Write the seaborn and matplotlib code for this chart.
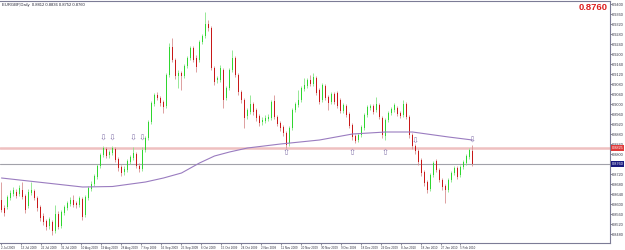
import numpy as np
import pandas as pd
import matplotlib
matplotlib.use("Agg")
import matplotlib.pyplot as plt
from matplotlib.transforms import blended_transform_factory
import seaborn as sns

# ---------------- data (EURGBP, Daily) ----------------
open_ = [0.8616, 0.8584, 0.8588, 0.8624, 0.8640, 0.8648, 0.8640, 0.8656, 0.8632, 0.8592,
         0.8644, 0.8652, 0.8624, 0.8588, 0.8552, 0.8532, 0.8512, 0.8528, 0.8492, 0.8560,
         0.8512, 0.8564, 0.8584, 0.8600, 0.8616, 0.8604, 0.8596, 0.8620, 0.8556, 0.8624,
         0.8660, 0.8680, 0.8708, 0.8752, 0.8796, 0.8820, 0.8796, 0.8804, 0.8820, 0.8780,
         0.8748, 0.8728, 0.8736, 0.8768, 0.8784, 0.8800, 0.8752, 0.8740, 0.8816, 0.8864,
         0.8928, 0.9000, 0.9036, 0.9024, 0.9008, 0.8992, 0.9116, 0.9228, 0.9176, 0.9112,
         0.9124, 0.9112, 0.9152, 0.9184, 0.9224, 0.9184, 0.9176, 0.9248, 0.9272, 0.9320,
         0.9304, 0.9144, 0.9096, 0.9096, 0.9136, 0.9024, 0.9064, 0.9136, 0.9184, 0.9116,
         0.9048, 0.9016, 0.8952, 0.8968, 0.9000, 0.8976, 0.8952, 0.8928, 0.8932, 0.8940,
         0.8944, 0.9012, 0.8948, 0.8924, 0.8908, 0.8884, 0.8844, 0.8904, 0.8976, 0.8996,
         0.9016, 0.9060, 0.9072, 0.9096, 0.9080, 0.9104, 0.9056, 0.9016, 0.9072, 0.9028,
         0.9008, 0.9040, 0.9044, 0.9016, 0.8972, 0.8992, 0.8960, 0.8916, 0.8872, 0.8856,
         0.8876, 0.8904, 0.8956, 0.8984, 0.8992, 0.8976, 0.8996, 0.8944, 0.8872, 0.8936,
         0.8964, 0.8976, 0.8984, 0.8964, 0.8956, 0.9000, 0.8948, 0.8876, 0.8832, 0.8812,
         0.8776, 0.8728, 0.8688, 0.8660, 0.8716, 0.8772, 0.8736, 0.8696, 0.8672, 0.8656,
         0.8696, 0.8724, 0.8744, 0.8716, 0.8748, 0.8764, 0.8788, 0.8812]

high_ = [0.8688, 0.8596, 0.8636, 0.8656, 0.8668, 0.8660, 0.8676, 0.8688, 0.8640, 0.8660,
         0.8688, 0.8660, 0.8632, 0.8596, 0.8564, 0.8540, 0.8548, 0.8536, 0.8596, 0.8572,
         0.8576, 0.8596, 0.8612, 0.8628, 0.8636, 0.8612, 0.8632, 0.8628, 0.8636, 0.8672,
         0.8692, 0.8720, 0.8760, 0.8804, 0.8832, 0.8828, 0.8816, 0.8832, 0.8828, 0.8788,
         0.8756, 0.8752, 0.8780, 0.8796, 0.8828, 0.8808, 0.8764, 0.8828, 0.8872, 0.8936,
         0.9012, 0.9044, 0.9048, 0.9032, 0.9016, 0.9124, 0.9244, 0.9264, 0.9184, 0.9136,
         0.9132, 0.9160, 0.9192, 0.9232, 0.9232, 0.9196, 0.9256, 0.9280, 0.9368, 0.9336,
         0.9312, 0.9152, 0.9112, 0.9156, 0.9144, 0.9072, 0.9144, 0.9216, 0.9192, 0.9124,
         0.9056, 0.9024, 0.8984, 0.9036, 0.9008, 0.8984, 0.8960, 0.8948, 0.8956, 0.8960,
         0.9016, 0.9036, 0.8956, 0.8932, 0.8916, 0.8892, 0.8912, 0.8984, 0.9008, 0.9056,
         0.9072, 0.9104, 0.9104, 0.9116, 0.9124, 0.9112, 0.9064, 0.9084, 0.9080, 0.9036,
         0.9048, 0.9048, 0.9052, 0.9024, 0.9004, 0.9000, 0.8968, 0.8924, 0.8880, 0.8884,
         0.8916, 0.8964, 0.8996, 0.9000, 0.9000, 0.9028, 0.9004, 0.8952, 0.8944, 0.8972,
         0.8988, 0.9004, 0.8992, 0.8972, 0.9016, 0.9008, 0.8956, 0.8884, 0.8840, 0.8820,
         0.8784, 0.8736, 0.8696, 0.8724, 0.8772, 0.8780, 0.8744, 0.8704, 0.8680, 0.8704,
         0.8732, 0.8752, 0.8752, 0.8756, 0.8776, 0.8800, 0.8824, 0.8836]

low_ = [0.8568, 0.8552, 0.8580, 0.8616, 0.8632, 0.8624, 0.8632, 0.8620, 0.8564, 0.8584,
        0.8636, 0.8616, 0.8572, 0.8532, 0.8516, 0.8496, 0.8500, 0.8476, 0.8484, 0.8500,
        0.8504, 0.8556, 0.8576, 0.8592, 0.8588, 0.8584, 0.8588, 0.8536, 0.8548, 0.8616,
        0.8652, 0.8672, 0.8700, 0.8744, 0.8788, 0.8784, 0.8784, 0.8796, 0.8768, 0.8732,
        0.8712, 0.8716, 0.8728, 0.8760, 0.8776, 0.8744, 0.8728, 0.8732, 0.8808, 0.8856,
        0.8920, 0.8992, 0.9016, 0.8992, 0.8964, 0.8984, 0.9108, 0.9168, 0.9100, 0.9064,
        0.9056, 0.9104, 0.9144, 0.9176, 0.9168, 0.9128, 0.9168, 0.9240, 0.9264, 0.9292,
        0.9136, 0.9076, 0.9084, 0.9088, 0.8984, 0.9016, 0.9056, 0.9128, 0.9108, 0.9036,
        0.9004, 0.8904, 0.8940, 0.8960, 0.8956, 0.8932, 0.8912, 0.8916, 0.8924, 0.8932,
        0.8936, 0.8940, 0.8912, 0.8892, 0.8872, 0.8824, 0.8832, 0.8896, 0.8968, 0.8988,
        0.9008, 0.9052, 0.9064, 0.9072, 0.9072, 0.9036, 0.9000, 0.9008, 0.9016, 0.8976,
        0.9000, 0.9000, 0.8984, 0.8964, 0.8964, 0.8948, 0.8904, 0.8856, 0.8844, 0.8848,
        0.8868, 0.8896, 0.8948, 0.8976, 0.8960, 0.8968, 0.8940, 0.8864, 0.8856, 0.8928,
        0.8956, 0.8968, 0.8952, 0.8944, 0.8948, 0.8940, 0.8864, 0.8820, 0.8800, 0.8756,
        0.8712, 0.8672, 0.8644, 0.8652, 0.8708, 0.8728, 0.8688, 0.8656, 0.8604, 0.8648,
        0.8688, 0.8716, 0.8700, 0.8708, 0.8740, 0.8756, 0.8780, 0.8752]

close_ = [0.8576, 0.8564, 0.8628, 0.8644, 0.8656, 0.8632, 0.8664, 0.8628, 0.8576, 0.8648,
          0.8656, 0.8624, 0.8584, 0.8544, 0.8528, 0.8508, 0.8540, 0.8492, 0.8560, 0.8508,
          0.8568, 0.8588, 0.8604, 0.8616, 0.8596, 0.8596, 0.8624, 0.8548, 0.8628, 0.8664,
          0.8680, 0.8712, 0.8752, 0.8796, 0.8824, 0.8792, 0.8808, 0.8824, 0.8776, 0.8744,
          0.8724, 0.8740, 0.8772, 0.8788, 0.8804, 0.8752, 0.8740, 0.8816, 0.8864, 0.8928,
          0.9004, 0.9036, 0.9024, 0.9004, 0.8988, 0.9116, 0.9228, 0.9176, 0.9112, 0.9124,
          0.9112, 0.9152, 0.9184, 0.9224, 0.9176, 0.9148, 0.9248, 0.9272, 0.9320, 0.9304,
          0.9144, 0.9088, 0.9104, 0.9144, 0.9016, 0.9064, 0.9136, 0.9184, 0.9116, 0.9048,
          0.9016, 0.8944, 0.8976, 0.9000, 0.8968, 0.8944, 0.8924, 0.8936, 0.8944, 0.8948,
          0.9008, 0.8948, 0.8920, 0.8904, 0.8884, 0.8836, 0.8904, 0.8976, 0.9000, 0.9016,
          0.9064, 0.9076, 0.9096, 0.9080, 0.9108, 0.9044, 0.9008, 0.9076, 0.9024, 0.9004,
          0.9040, 0.9008, 0.8992, 0.8972, 0.8996, 0.8956, 0.8912, 0.8868, 0.8852, 0.8876,
          0.8908, 0.8956, 0.8988, 0.8992, 0.8968, 0.9000, 0.8948, 0.8876, 0.8936, 0.8964,
          0.8980, 0.8996, 0.8960, 0.8952, 0.9000, 0.8948, 0.8876, 0.8832, 0.8812, 0.8768,
          0.8724, 0.8684, 0.8656, 0.8716, 0.8764, 0.8736, 0.8696, 0.8668, 0.8656, 0.8696,
          0.8724, 0.8744, 0.8708, 0.8748, 0.8768, 0.8792, 0.8816, 0.8760]

# moving average (read at selected bars)
ma_bar = [0, 15, 27, 37, 48, 54, 60, 66, 71, 76, 82, 93, 106, 117, 128, 137, 149, 157]
ma_val = [0.8704, 0.8684, 0.8668, 0.8670, 0.8688, 0.8704, 0.8724, 0.8764, 0.8792,
          0.8808, 0.8824, 0.8840, 0.8856, 0.8880, 0.8888, 0.8888, 0.8868, 0.8856]

# arrows (signal markers)
down_arrow_bar = [34, 37, 44, 47, 138, 157]
down_arrow_price = [0.8864, 0.8864, 0.8864, 0.8864, 0.8852, 0.8854]
up_arrow_bar = [95, 117, 128]
up_arrow_price = [0.8806, 0.8806, 0.8806]

level_line = 0.8825
bid_price = 0.8760

date_labels = ["2 Jul 2009", "13 Jul 2009", "22 Jul 2009", "31 Jul 2009", "10 Aug 2009",
               "19 Aug 2009", "28 Aug 2009", "7 Sep 2009", "16 Sep 2009", "25 Sep 2009",
               "6 Oct 2009", "15 Oct 2009", "24 Oct 2009", "2 Nov 2009", "11 Nov 2009",
               "20 Nov 2009", "30 Nov 2009", "9 Dec 2009", "18 Dec 2009", "29 Dec 2009",
               "8 Jan 2010", "18 Jan 2010", "27 Jan 2010", "5 Feb 2010"]

price_ticks = [0.9400, 0.9360, 0.9320, 0.9280, 0.9240, 0.9200, 0.9160, 0.9120, 0.9080,
               0.9040, 0.9000, 0.8960, 0.8920, 0.8880, 0.8840, 0.8800, 0.8760, 0.8720,
               0.8680, 0.8640, 0.8600, 0.8560, 0.8520, 0.8480]

# ---------------- drawing ----------------
sns.set_theme(style="white")
plt.rcParams["font.family"] = ["Liberation Sans", "DejaVu Sans"]

df = pd.DataFrame({"o": open_, "h": high_, "l": low_, "c": close_})
df["bar"] = np.arange(len(df))
df["up"] = df["c"] >= df["o"]

fig = plt.figure(figsize=(6.25, 2.5), dpi=100)
ax = fig.add_axes([0.0, 7 / 250, 610 / 625, 242 / 250])
ax.set_facecolor("white")

# horizontal level + bid line
ax.axhline(level_line, color="#efc0c0", lw=1.8, zorder=1)
ax.axhline(bid_price, color="#a2a2aa", lw=0.8, zorder=1)

# wicks
wick_col = np.where(df["up"], "#86e486", "#d89090")
ax.vlines(df["bar"], df["l"], df["h"], colors=wick_col, lw=0.6, zorder=2)
# bodies
body_lo = np.minimum(df["o"], df["c"])
body_h = np.maximum(np.abs(df["c"] - df["o"]), 0.00010)
body_col = np.where(df["up"], "#2fd62f", "#c81818")
ax.bar(df["bar"], body_h, bottom=body_lo, width=0.62, color=body_col, linewidth=0, zorder=3)

# moving average
sns.lineplot(x=ma_bar, y=ma_val, ax=ax, color="#9a7cc0", lw=0.8, estimator=None,
             sort=False, zorder=4)

# arrows
for b, p in zip(down_arrow_bar, down_arrow_price):
    ax.text(b, p, "\u21e9", ha="center", va="center", fontsize=6, color="#8676ac",
            family="DejaVu Sans", zorder=5)
for b, p in zip(up_arrow_bar, up_arrow_price):
    ax.text(b, p, "\u21e7", ha="center", va="center", fontsize=6, color="#8676ac",
            family="DejaVu Sans", zorder=5)

ax.set_xlim(-0.5, -0.5 + 610 / 3)
ax.set_ylim(0.8444, 0.9412)

# axes styling
ax.yaxis.tick_right()
ax.set_yticks(price_ticks)
ax.set_yticklabels([f"{v:.4f}" for v in price_ticks])
xpos = np.linspace(0, 153, len(date_labels))
ax.set_xticks(xpos)
ax.set_xticklabels(date_labels, ha="left")
ax.tick_params(axis="y", labelsize=2.8, length=1.2, width=0.4, pad=0.5, colors="#333344",
               right=True)
ax.tick_params(axis="x", labelsize=2.2, length=1.5, width=0.4, pad=0.5, colors="#333344",
               bottom=True)
ax.set_xlabel("")
ax.set_ylabel("")
ax.grid(False)
for s in ["top", "right", "bottom"]:
    ax.spines[s].set_color("#7c7c96")
    ax.spines[s].set_linewidth(0.8)
ax.spines["left"].set_visible(False)

trans = blended_transform_factory(ax.transAxes, ax.transData)
ax.text(1.003, level_line, f"{level_line:.4f}", transform=trans, fontsize=2.8, color="white",
        ha="left", va="center", zorder=6,
        bbox=dict(boxstyle="square,pad=0.2", fc="#e03a3a", ec="none"))
ax.text(1.003, bid_price, f"{bid_price:.4f}", transform=trans, fontsize=2.8, color="white",
        ha="left", va="center", zorder=6,
        bbox=dict(boxstyle="square,pad=0.2", fc="#1a1a80", ec="none"))

fig.text(2 / 625, 1 - 5 / 250,
         f"EURGBP,Daily  {open_[-1]:.4f} {high_[-1]:.4f} {low_[-1]:.4f} {close_[-1]:.4f}",
         fontsize=3.0, color="#222233", ha="left", va="center")
fig.text(608 / 625, 1 - 8 / 250, f"{close_[-1]:.4f}", fontsize=6.8, fontweight="bold",
         color="#dd2020", ha="right", va="center")

fig.savefig("out.png", dpi=100)
